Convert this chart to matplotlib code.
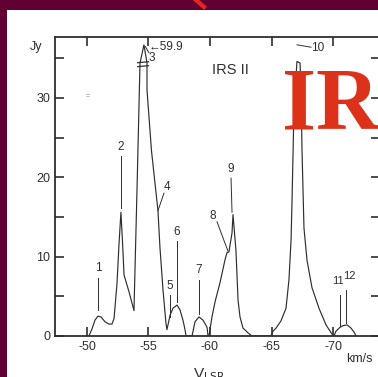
import numpy as np
import matplotlib
matplotlib.use("Agg")
import matplotlib.pyplot as plt
from matplotlib.patches import Rectangle
from matplotlib.lines import Line2D

plt.rcParams['font.family'] = ['Liberation Sans', 'DejaVu Sans']
plt.rcParams['axes.unicode_minus'] = False
plt.rcParams['mathtext.fontset'] = 'dejavusans'

# H2O maser spectrum, IRS II  (V_LSR in km/s, flux in Jy)
vel = [-50.16, -50.41, -50.65, -50.89, -51.14, -51.46, -51.79, -52.03, -52.20,
       -52.44, -52.60, -52.76, -52.90, -53.01, -53.41, -53.82, -54.07, -54.31,
       -54.63, -54.88, -54.88, -55.24, -55.77, -55.93, -56.18, -56.42, -56.50,
       -56.67, -56.75, -56.99, -57.32, -57.56, -57.80, -57.97, -58.05,
       -58.54, -58.78, -59.11, -59.43, -59.76, -59.84, -59.92,
       -60.16, -60.41, -60.81, -61.22, -61.38, -61.54, -61.79, -61.87, -62.11,
       -62.28, -62.44, -62.68, -63.09, -63.41,
       -64.96, -65.12, -65.37, -65.77, -66.18, -66.42, -66.59, -66.67, -66.79,
       -66.99, -67.07, -67.32, -67.40, -67.48, -67.64, -67.89, -68.29, -68.86,
       -69.43, -69.92, -70.08,
       -70.24, -70.57, -70.81, -71.14, -71.46, -71.71, -71.87]
flux = [0.0, 0.9, 2.0, 2.5, 2.4, 1.8, 1.5, 1.5, 2.2,
        6.6, 11.5, 15.6, 11.5, 7.7, 5.6, 3.2, 18.7, 34.4,
        59.9, 34.4, 31.0, 23.4, 15.8, 11.2, 5.8, 1.6, 0.8,
        2.0, 2.6, 3.5, 3.9, 3.3, 2.0, 0.8, 0.0,
        0.0, 1.8, 2.4, 2.0, 1.1, 0.0, 0.0,
        2.4, 4.3, 6.7, 9.6, 10.5, 10.6, 13.0, 15.3, 10.8,
        4.5, 2.4, 1.0, 0.4, 0.0,
        0.0, 0.6, 1.0, 1.9, 3.5, 7.1, 12.1, 17.1, 26.0,
        32.6, 36.7, 34.5, 31.0, 23.4, 13.6, 9.5, 6.1, 3.5,
        1.4, 0.25, 0.0,
        0.6, 1.1, 1.3, 1.4, 1.0, 0.5, 0.0]

# numbered maser features: where each leader line ends on the spectrum
feat_ids = ['1', '2', '4', '5', '6', '7', '8', '9', '11', '12']
feat_vel = [-50.89, -52.76, -55.77, -56.75, -57.32, -59.11, -61.46, -61.79, -70.57, -71.06]
feat_flux = [3.3, 16.1, 15.8, 2.4, 4.3, 2.8, 10.7, 15.6, 1.3, 1.6]
# label text position (vel, flux) and top of leader line
lab_pos = [(-50.89, 8.6), (-52.76, 23.8), (-56.50, 18.8), (-56.75, 6.3), (-57.32, 13.1),
           (-59.11, 8.3), (-60.24, 15.1), (-61.71, 21.0), (-70.40, 6.9), (-71.36, 7.6)]
lead_top = [(-50.89, 7.3), (-52.76, 22.7), (-56.26, 18.0), (-56.75, 5.2), (-57.32, 12.0),
            (-59.11, 7.1), (-60.57, 14.4), (-61.71, 19.9), (-70.57, 5.2), (-71.06, 5.8)]

peak3 = 59.9       # off-scale, drawn above an axis break
brk = 34.4
shown_top = 36.7

xticks = [-50, -55, -60, -65, -70]
yticks = [0, 10, 20, 30]

W, H = 378, 377
fig = plt.figure(figsize=(W / 100, H / 100), dpi=100)
fig.patch.set_facecolor('#600033')
fig.patches.append(Rectangle((7 / W, 0), 1 - 7 / W, (H - 10) / H, transform=fig.transFigure,
                             facecolor='white', edgecolor='none', zorder=-1))
fig.lines.append(Line2D([196 / W, 204 / W], [1, 1 - 7 / H], transform=fig.transFigure,
                        color='#e8261b', lw=3))

ax = fig.add_axes([55 / W, (H - 336) / H, (380 - 55) / W, (336 - 36.5) / H])
ax.set_facecolor('none')
ink = '#2e2e2e'

v = np.array(vel)
f = np.array(flux)
fplot = np.where(f > brk, brk + (f - brk) * (shown_top - brk) / (peak3 - brk), f)
ax.plot(v, fplot, color=ink, lw=0.85)

# break marks on the tall feature 3
for yb in (33.95, 34.45):
    ax.plot([-54.12, -55.0], [yb, yb + 0.12], color=ink, lw=0.9)
i3 = flux.index(peak3)
ax.annotate('\u2190' + f'{peak3:.1f}', xy=(vel[i3], shown_top),
            xytext=(-54.98, 36.45), fontsize=8.5, color=ink, va='center')
ax.plot([-55.04, -54.74], [35.7, 36.5], color=ink, lw=0.7)
ax.text(-55.28, 35.0, '3', fontsize=8.5, color=ink, ha='center', va='center')

# feature 10 with bracket leader
i10 = flux.index(36.7)
ax.plot([vel[i10], -68.21], [shown_top, 36.4], color=ink, lw=0.7)
ax.text(-68.78, 36.35, '10', fontsize=8.5, color=ink, ha='center', va='center')

for k, name in enumerate(feat_ids):
    ax.plot([lead_top[k][0], feat_vel[k]], [lead_top[k][1], feat_flux[k]], color=ink, lw=0.7)
    fs = 8 if len(name) > 1 else 8.5
    ax.text(lab_pos[k][0], lab_pos[k][1], name, fontsize=fs, color=ink,
            ha='center', va='center')

ax.text(-50.08, 30.1, '=', fontsize=5, color='#888888', ha='center', va='center')
ax.text(-61.7, 33.5, 'IRS II', fontsize=10.5, color=ink, ha='center', va='center')

ax.set_xlim(-47.40, -73.82)
ax.set_ylim(0, 37.75)
ax.set_xticks(xticks)
ax.set_xticklabels([str(t) for t in xticks])
ax.set_yticks(yticks)
ax.set_yticklabels([str(t) for t in yticks])
ax.set_yticks([5, 15, 25, 35], minor=True)
ax.tick_params(which='both', direction='in', top=True, right=True, color=ink,
               labelcolor=ink, labelsize=9, width=1.2, pad=3.6)
ax.tick_params(which='major', length=6.5)
ax.tick_params(which='minor', length=6.5)
for s in ax.spines.values():
    s.set_color(ink)
    s.set_linewidth(1.3)

fig.text(36 / W, 1 - 47 / H, 'Jy', fontsize=9, color=ink, ha='center', va='center')
fig.text(359 / W, 1 - 359 / H, 'km/s', fontsize=9, color=ink, ha='center', va='center')
fig.text(193 / W, 1 - 366 / H, r'V$_{\mathrm{LSR}}$', fontsize=11, color=ink,
         ha='left', va='top')

fig.text(282 / W, (H - 128) / H, 'IR', fontsize=63, color='#dc3219', fontweight='bold',
         family=['Liberation Serif', 'DejaVu Serif'], ha='left', va='baseline')

fig.savefig('out.png', dpi=100, facecolor=fig.get_facecolor())
